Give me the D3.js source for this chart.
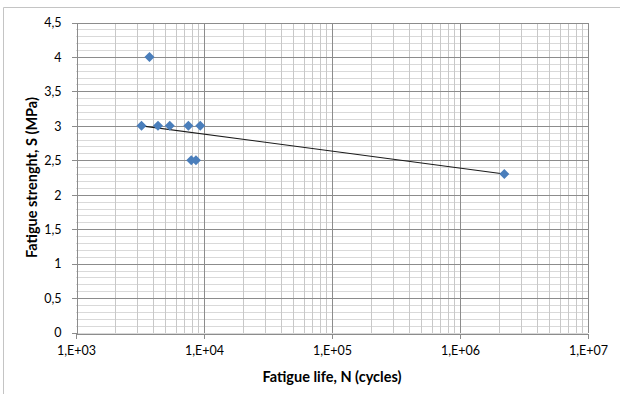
<!DOCTYPE html>
<html>
<head>
<meta charset="utf-8">
<script src="https://cdn.jsdelivr.net/npm/d3@7"></script>
<style>
    body { margin: 0; background: #fff; }
    svg { display: block; }
    .tick-label { font-family: Lato, "Open Sans", sans-serif; font-size: 12.5px; fill: #000; }
    .axis-label { font-family: Lato, "Open Sans", sans-serif; font-size: 14.5px; font-weight: bold; fill: #000; }
</style>
</head>
<body>
<svg id="chart"></svg>
<script>
// measured points: cycles to failure and stress level
const cycles = [3.25e3, 3.75e3, 4.37e3, 5.4e3, 7.55e3, 9.35e3, 7.95e3, 8.65e3, 2.22e6];
const strength = [3, 4, 3, 3, 3, 3, 2.5, 2.5, 2.3];

// trendline end points (log trend, straight on the log axis)
const trendCycles = [3.25e3, 2.22e6];
const trendStrength = [3.0, 2.3];

const xTickValues = [1e3, 1e4, 1e5, 1e6, 1e7];
const yTickValues = [0, 0.5, 1, 1.5, 2, 2.5, 3, 3.5, 4, 4.5];

const width = 620;
const height = 394;
const margin = { top: 22.5, right: 32, bottom: 61.5, left: 76 };

const svg = d3.select("#chart")
    .attr("width", width)
    .attr("height", height);

// outer frame (top and left edge of the embedded chart)
svg.append("path")
    .attr("d", `M3.5,${height} V7.5 H${width}`)
    .attr("fill", "none")
    .attr("stroke", "#c4c4c4")
    .attr("stroke-width", 1);

const x = d3.scaleLog()
    .domain([1e3, 1e7])
    .range([margin.left, width - margin.right]);

const y = d3.scaleLinear()
    .domain([0, 4.5])
    .range([height - margin.bottom, margin.top]);

const grid = svg.append("g").attr("shape-rendering", "crispEdges");

// minor horizontal grid every 0.1
grid.selectAll(".hminor")
    .data(y.ticks(45))
    .enter()
    .append("line")
    .attr("x1", x.range()[0])
    .attr("x2", x.range()[1])
    .attr("y1", d => Math.round(y(d)) + 0.5)
    .attr("y2", d => Math.round(y(d)) + 0.5)
    .attr("stroke", "#d9d9d9");

// minor vertical grid 2..9 per decade
grid.selectAll(".vminor")
    .data(x.ticks().filter(d => !xTickValues.includes(d)))
    .enter()
    .append("line")
    .attr("x1", d => Math.round(x(d)) + 0.5)
    .attr("x2", d => Math.round(x(d)) + 0.5)
    .attr("y1", y.range()[0])
    .attr("y2", y.range()[1])
    .attr("stroke", "#c8c8c8");

// major horizontal grid
grid.selectAll(".hmajor")
    .data(yTickValues.slice(1))
    .enter()
    .append("line")
    .attr("x1", x.range()[0])
    .attr("x2", x.range()[1])
    .attr("y1", d => Math.round(y(d)) + 0.5)
    .attr("y2", d => Math.round(y(d)) + 0.5)
    .attr("stroke", "#8c8c8c");

// major vertical grid
grid.selectAll(".vmajor")
    .data(xTickValues.slice(1))
    .enter()
    .append("line")
    .attr("x1", d => Math.round(x(d)) + 0.5)
    .attr("x2", d => Math.round(x(d)) + 0.5)
    .attr("y1", y.range()[0])
    .attr("y2", y.range()[1])
    .attr("stroke", "#8c8c8c");

// axes
const xAxis = svg.append("g")
    .attr("transform", `translate(0,${Math.round(y(0)) + 0.5})`)
    .call(d3.axisBottom(x)
        .tickValues(xTickValues)
        .tickSize(5)
        .tickFormat(d => "1,E+0" + Math.round(Math.log10(d))));

const yAxis = svg.append("g")
    .attr("transform", `translate(${Math.round(x(1e3)) + 0.5},0)`)
    .call(d3.axisLeft(y)
        .tickValues(yTickValues)
        .tickSize(5)
        .tickPadding(10)
        .tickFormat(d => String(d).replace(".", ",")));

[xAxis, yAxis].forEach(a => {
    a.attr("shape-rendering", "crispEdges");
    a.select(".domain").attr("stroke", "#8c8c8c");
    a.selectAll(".tick line").attr("stroke", "#8c8c8c");
    a.selectAll(".tick text")
        .attr("class", "tick-label")
        .attr("font-family", null)
        .attr("font-size", null);
});
xAxis.selectAll(".tick text").attr("dy", "1.1em");
yAxis.selectAll(".tick text").attr("dy", "0.35em");

// trendline
svg.append("path")
    .datum(trendCycles.map((c, i) => [c, trendStrength[i]]))
    .attr("d", d3.line().x(d => x(d[0])).y(d => y(d[1])))
    .attr("fill", "none")
    .attr("stroke", "#1a1a1a")
    .attr("stroke-width", 1.1);

// markers
svg.selectAll(".point")
    .data(cycles.map((c, i) => ({ n: c, s: strength[i] })))
    .enter()
    .append("path")
    .attr("class", "point")
    .attr("transform", d => `translate(${x(d.n)},${y(d.s)})`)
    .attr("d", d3.symbol().type(d3.symbolDiamond2).size(64))
    .attr("fill", "#4a7ebb");

// axis titles
svg.append("text")
    .attr("class", "axis-label")
    .attr("x", (x.range()[0] + x.range()[1]) / 2)
    .attr("y", 382)
    .attr("text-anchor", "middle")
    .text("Fatigue life, N (cycles)");

svg.append("text")
    .attr("class", "axis-label")
    .attr("transform", `translate(37,${(y.range()[0] + y.range()[1]) / 2}) rotate(-90)`)
    .attr("text-anchor", "middle")
    .text("Fatigue strenght, S (MPa)");
</script>
</body>
</html>
